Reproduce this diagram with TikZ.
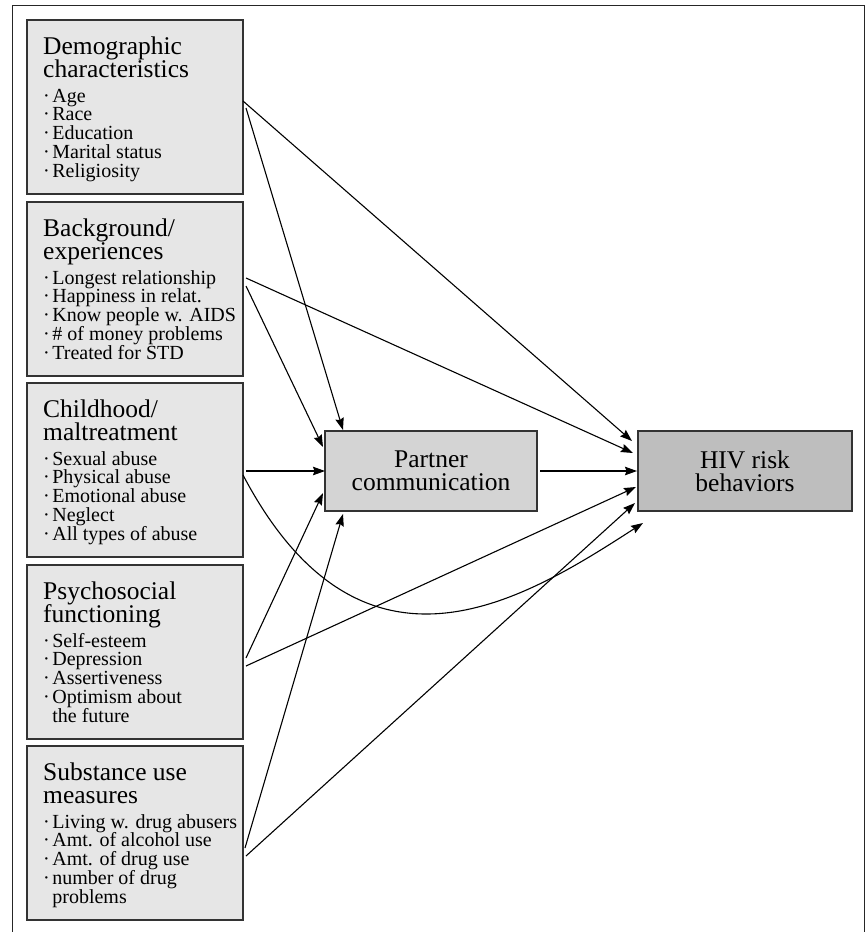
\documentclass[tikz,border=0pt]{standalone}
\usepackage{fontspec}
\setmainfont{Liberation Serif}
\usetikzlibrary{arrows.meta,calc}
\definecolor{boxfill}{HTML}{E6E6E6}
\definecolor{partfill}{HTML}{D4D4D4}
\definecolor{hivfill}{HTML}{BEBEBE}
\definecolor{edgegray}{HTML}{333333}
\begin{document}
\begin{tikzpicture}[x=1pt,y=-1pt,
  factor/.style={draw=edgegray,line width=1.3pt,fill=boxfill,minimum width=216pt,minimum height=174pt,inner sep=0pt,outer sep=0pt,anchor=north west},
  midbox/.style={draw=edgegray,line width=1.3pt,minimum height=80pt,inner sep=0pt,outer sep=0pt,align=center,font=\fontsize{25.5}{23}\selectfont},
  ttl/.style={anchor=base west,inner sep=0pt,font=\fontsize{25.5}{23}\selectfont},
  itm/.style={anchor=base west,inner sep=0pt,font=\fontsize{20}{19}\selectfont},
  arr/.style={line width=1.1pt,-{Stealth[length=12pt,width=8.5pt,inset=1.5pt]}}
]
\useasboundingbox (0,0) rectangle (866,932);
\draw[line width=0.9pt,black!85] (12,932) -- (12,5) -- (864,5) -- (864,932);

% left boxes
\node[factor] (dem) at (27,20) {};
\node[factor] (back) at (27,202) {};
\node[factor] (child) at (27,383) {};
\node[factor] (psych) at (27,565) {};
\node[factor] (sub) at (27,746) {};

% middle and right boxes
\node[midbox,fill=partfill,minimum width=212pt] (partner) at (431,471) {Partner\\communication};
\node[midbox,fill=hivfill,minimum width=214pt] (hiv) at (745,471) {HIV risk\\behaviors};

% texts: demographic
\node[ttl] (dem-t1) at (43,54) {Demographic};
\node[ttl] (dem-t2) at (43,77) {characteristics};
\foreach \t [count=\i] in {Age,Race,Education,Marital status,Religiosity}
  \node[itm] (dem-i\i) at (43,{20+82+18.9*(\i-1)}) {·\hspace{2.5pt}\t};

% background
\node[ttl] (back-t1) at (43,236) {Background/};
\node[ttl] (back-t2) at (43,259) {experiences};
\foreach \t [count=\i] in {Longest relationship,Happiness in relat.,Know people w. AIDS,\# of money problems,Treated for STD}
  \node[itm] (back-i\i) at (43,{202+82+18.9*(\i-1)}) {·\hspace{2.5pt}\t};

% childhood
\node[ttl] (child-t1) at (43,417) {Childhood/};
\node[ttl] (child-t2) at (43,440) {maltreatment};
\foreach \t [count=\i] in {Sexual abuse,Physical abuse,Emotional abuse,Neglect,All types of abuse}
  \node[itm] (child-i\i) at (43,{383+82+18.9*(\i-1)}) {·\hspace{2.5pt}\t};

% psychosocial
\node[ttl] (psych-t1) at (43,599) {Psychosocial};
\node[ttl] (psych-t2) at (43,622) {functioning};
\foreach \t [count=\i] in {Self-esteem,Depression,Assertiveness,Optimism about}
  \node[itm] (psych-i\i) at (43,{565+82+18.9*(\i-1)}) {·\hspace{2.5pt}\t};
\node[itm] (psych-i5) at (43,{565+82+18.9*4}) {\phantom{·\hspace{2.5pt}}the future};

% substance
\node[ttl] (sub-t1) at (43,780) {Substance use};
\node[ttl] (sub-t2) at (43,803) {measures};
\foreach \t [count=\i] in {Living w. drug abusers,Amt. of alcohol use,Amt. of drug use,number of drug}
  \node[itm] (sub-i\i) at (43,{746+82+18.9*(\i-1)}) {·\hspace{2.5pt}\t};
\node[itm] (sub-i5) at (43,{746+82+18.9*4}) {\phantom{·\hspace{2.5pt}}problems};

% connectors
\draw[arr] ($(dem.north east)+(0,81)$) -- ($(hiv.north west)+(-6,10)$);
\draw[arr] ($(dem.north east)+(3,88)$) -- ($(partner.north west)+(18,-1)$);
\draw[arr] ($(back.north east)+(3,76)$) -- ($(hiv.north west)+(-5,22)$);
\draw[arr] ($(back.north east)+(3,84)$) -- ($(partner.north west)+(-2,16)$);
\draw[arr] ($(child.east |- partner.west)+(3,0)$) -- (partner.west);
\draw[arr] ($(child.north east)+(0,92)$) .. controls (362,701) and (524,600) .. ($(hiv.south west)+(5,12)$);
\draw[arr] ($(psych.north east)+(3,93)$) -- ($(partner.south west)+(-2,-18)$);
\draw[arr] ($(psych.north east)+(3,101)$) -- ($(hiv.south west)+(-2,-24)$);
\draw[arr] ($(sub.north east)+(2,102)$) -- ($(partner.south west)+(18,3)$);
\draw[arr] ($(sub.north east)+(3,110)$) -- ($(hiv.south west)+(-3,-8)$);
\draw[arr] ($(partner.east)+(3,0)$) -- ($(hiv.west)+(-1,0)$);
\end{tikzpicture}
\end{document}
